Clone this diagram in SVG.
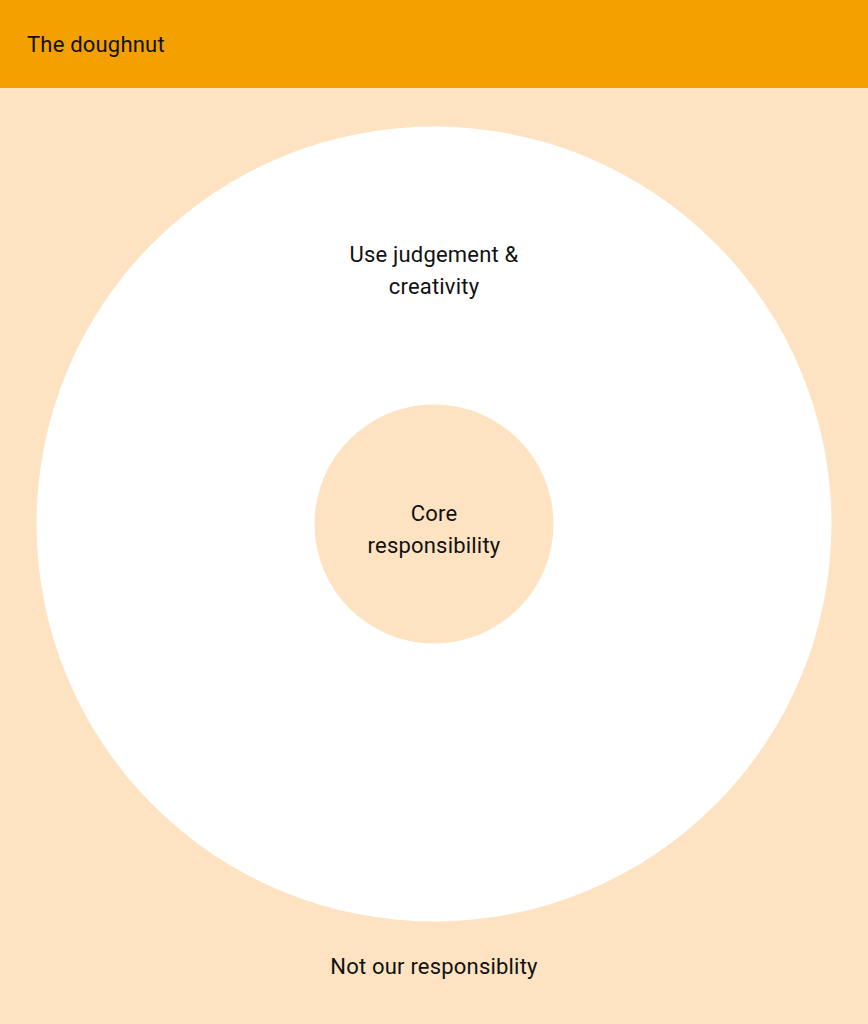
<svg xmlns="http://www.w3.org/2000/svg" width="868" height="1024" viewBox="0 0 868 1024">
<style>
.t{font-family:Roboto,"Liberation Sans",sans-serif;font-size:22px;letter-spacing:0.2px;fill:#111;}
.c{text-anchor:middle;}
</style>
<rect x="0" y="0" width="868" height="1024" fill="#FDE3C2"/>
<g id="header">
<rect x="0" y="0" width="868" height="88" fill="#F3A000"/>
<text class="t" x="27" y="52">The doughnut</text>
</g>
<g id="outer">
<text class="t c" x="434" y="974">Not our responsiblity</text>
</g>
<g id="middle">
<circle cx="434" cy="524" r="397.5" fill="#FFFFFF"/>
<text class="t c" x="434" y="262">Use judgement &amp;</text>
<text class="t c" x="434" y="294">creativity</text>
</g>
<g id="core">
<circle cx="434" cy="524" r="119.5" fill="#FDE3C2"/>
<text class="t c" x="434" y="521">Core</text>
<text class="t c" x="434" y="553">responsibility</text>
</g>
<g id="connectors"/>
</svg>
